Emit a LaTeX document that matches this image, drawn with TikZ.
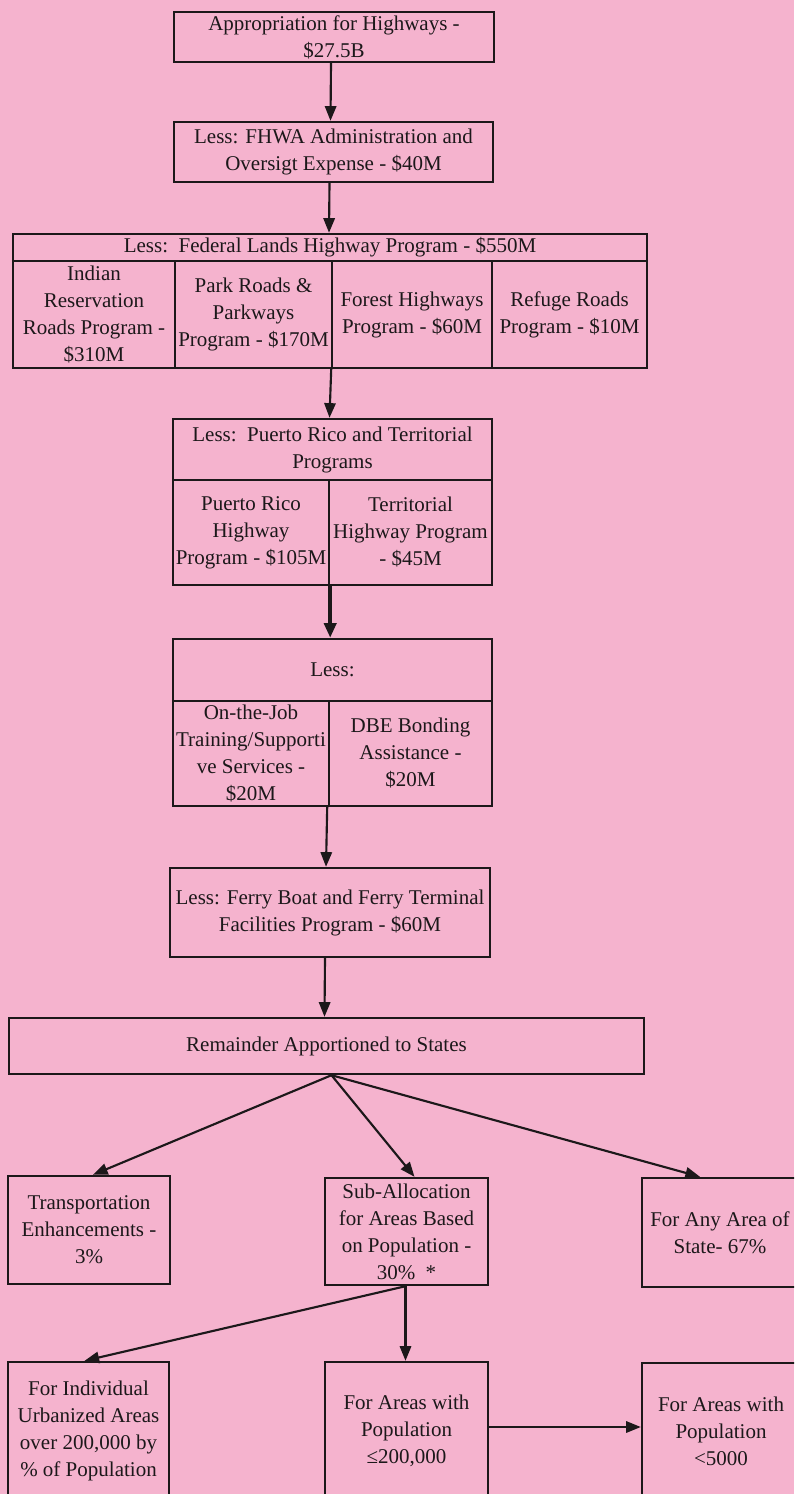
\documentclass[tikz,border=0pt]{standalone}
\usepackage{fontspec}
\setmainfont{Liberation Serif}
\usetikzlibrary{arrows.meta,calc}
\definecolor{bgpink}{RGB}{245,179,206}
\definecolor{ink}{RGB}{28,24,26}
\tikzset{
  boxst/.style={draw=ink, line width=1.8pt, rectangle, inner sep=0pt, align=center,
    text=ink, font=\fontsize{15.75pt}{20.25pt}\selectfont},
  arr/.style={draw=ink, line width=1.6pt, -{Triangle[length=11pt,width=8.5pt]}},
  thickarr/.style={draw=ink, line width=3pt, -{Triangle[length=11pt,width=9pt]}},
}
\newcommand\mybox[6]{%
  \pgfmathsetmacro\bw{(#4-#2)*0.75}%
  \pgfmathsetmacro\bh{(#5-#3)*0.75}%
  \node[boxst, minimum width=\bw pt, minimum height=\bh pt] (#1) at ({(#2+#4)/2},{(#3+#5)/2}) {#6};}
\begin{document}
\begin{tikzpicture}[x=0.75pt,y=-0.75pt]
\fill[bgpink] (0,0) rectangle (794,1494);
\useasboundingbox (0,0) rectangle (794,1494);
\clip (0,0) rectangle (794,1494);
% top boxes
\mybox{b1}{174}{12}{494}{62}{Appropriation for Highways -\\ \$27.5B}
\mybox{b2}{174}{122}{493}{182}{Less: FHWA Administration and\\ Oversigt Expense - \$40M}
% federal lands
\mybox{fedh}{13}{234}{647}{261}{Less:\ \ Federal Lands Highway Program - \$550M}
\mybox{fc1}{13}{261}{175}{368}{Indian\\ Reservation\\ Roads Program -\\ \$310M}
\mybox{fc2}{175}{261}{332}{368}{Park Roads \&\\ Parkways\\ Program - \$170M}
\mybox{fc3}{332}{261}{492}{368}{Forest Highways\\ Program - \$60M}
\mybox{fc4}{492}{261}{647}{368}{Refuge Roads\\ Program - \$10M}
% puerto rico
\mybox{prh}{173}{419}{492}{480}{Less:\ \ Puerto Rico and Territorial\\ Programs}
\mybox{pc1}{173}{480}{329}{585}{Puerto Rico\\ Highway\\ Program - \$105M}
\mybox{pc2}{329}{480}{492}{585}{Territorial\\ Highway Program\\ - \$45M}
% less
\mybox{lh}{173}{639}{492}{701}{Less:}
\mybox{lc1}{173}{701}{329}{806}{On-the-Job\\ Training/Supporti\\ ve Services -\\ \$20M}
\mybox{lc2}{329}{701}{492}{806}{DBE Bonding\\ Assistance -\\ \$20M}
% ferry
\mybox{ferry}{170}{868}{490}{957}{Less: Ferry Boat and Ferry Terminal\\ Facilities Program - \$60M}
% remainder
\mybox{rem}{9}{1018}{644}{1074}{Remainder Apportioned to States}
% third level
\mybox{transp}{8}{1176}{170}{1284}{Transportation\\ Enhancements -\\ 3\%}
\mybox{sub}{325}{1178}{488}{1285}{Sub-Allocation\\ for Areas Based\\ on Population -\\ 30\%\ \ *}
\mybox{any}{642}{1178}{798}{1287}{For Any Area of\\ State- 67\%}
% fourth level
\mybox{ind}{8}{1362}{169}{1500}{For Individual\\ Urbanized Areas\\ over 200,000 by\\ \% of Population}
\mybox{mid}{325}{1362}{488}{1500}{For Areas with\\ Population\\ ≤200,000}
\mybox{small}{642}{1363}{800}{1500}{For Areas with\\ Population\\ <5000}
% connectors
\draw[arr] ($(b1.south)+(-3,0)$) -- ($(b2.north)+(-3,0)$);
\draw[arr] ($(b2.south)+(-4,0)$) -- ($(fedh.north)+(-1,0)$);
\draw[arr] ($(fc2.south east)+(-2,0)$) -- ($(prh.north)+(-3,0)$);
\draw[thickarr] (pc1.south east) -- (pc1.south east |- lh.north);
\draw[arr] ($(lc1.south east)+(-3,0)$) -- ($(ferry.north)+(-4,0)$);
\draw[arr] ($(ferry.south)+(-5,0)$) -- ($(rem.north)+(-2,0)$);
\coordinate (split) at ($(rem.south)+(5,0)$);
\draw[arr] (split) -- ($(transp.north)+(4,0)$);
\draw[arr] (split) -- ($(sub.north)+(8,0)$);
\draw[arr] (split) -- ($(any.north)+(-20,0)$);
\coordinate (split2) at ($(sub.south)+(-1,0)$);
\draw[arr] (split2) -- ($(ind.north)+(-4,0)$);
\draw[arr] (split2) -- (split2 |- mid.north);
\draw[arr] ($(mid.east)+(0,-4)$) -- ($(mid.east -| small.west)+(0,-4)$);
\end{tikzpicture}
\end{document}
